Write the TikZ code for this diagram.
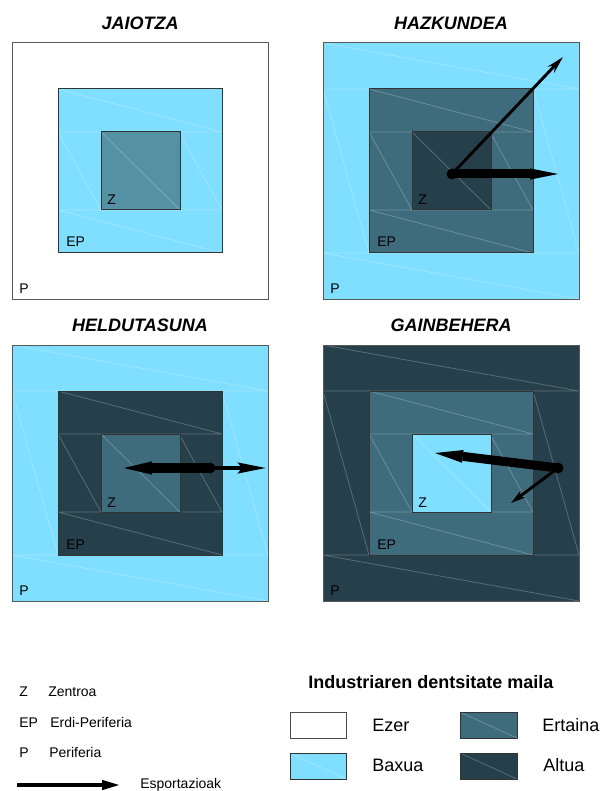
\documentclass[tikz,border=0pt]{standalone}
\usepackage{fontspec}
\setmainfont{Liberation Sans}
\usetikzlibrary{arrows.meta, calc}
\definecolor{baxua}{RGB}{128, 223, 255}
\definecolor{ertaina}{RGB}{62, 108, 124}
\definecolor{altua}{RGB}{38, 64, 75}
\definecolor{zargia}{RGB}{85, 145, 164}
\tikzset{
  zati/.style = {white, opacity = 0.25, line width = 0.55pt},
  ertz/.style = {draw = black!80, line width = 0.75pt},
  izenburua/.style = {font = \fontsize{13.5}{16}\selectfont\bfseries\itshape},
  etiketa/.style = {font = \fontsize{10.5}{12}\selectfont, anchor = base west, inner sep = 0pt},
  legenda/.style = {font = \fontsize{13.5}{16}\selectfont, anchor = base west, inner sep = 0pt}
}
% one stage: #1 name, #2 origin, #3 P, #4 EP, #5 Z, #6 title
\newcommand\estadioa[6]{%
  \begin{scope}[shift = {#2}]
    \fill[#3] (0, 0) rectangle (256, 256);
    \draw[zati] (0, 46) -- (256, 46) (0, 210) -- (256, 210)
      (0, 0) -- (256, 46) (0, 210) -- (256, 256)
      (0, 46) -- (46, 210) (210, 46) -- (256, 210);
    \draw[ertz, draw = black!65] (0, 0) rectangle (256, 256);
    \fill[#4] (46, 46) rectangle (210, 210);
    \draw[zati] (46, 89) -- (210, 89) (46, 167) -- (210, 167)
      (46, 46) -- (210, 89) (46, 167) -- (210, 210)
      (46, 89) -- (89, 167) (167, 89) -- (210, 167);
    \draw[ertz] (46, 46) rectangle (210, 210);
    \fill[#5] (89, 89) rectangle (168, 167);
    \draw[zati] (89, 89) -- (168, 167);
    \draw[ertz] (89, 89) rectangle (168, 167);
    \node[izenburua] (#1) at (128, -20) {#6};
    \node[etiketa] (#1-p) at (7, 250) {P};
    \node[etiketa] (#1-ep) at (54, 204) {EP};
    \node[etiketa] (#1-z) at (95, 162) {Z};
  \end{scope}}
% thick export arrow: #1 start, #2 tip, #3 shaft width, #4 head half width
\newcommand\lodia[4]{%
  \coordinate (oin) at ($(#2)!21pt!(#1)$);
  \draw[line width = #3] (#1) -- (oin);
  \fill (#2) -- ($(oin)!#4!90:(#2)$) -- ($(oin)!#4!-90:(#2)$) -- cycle;
  \fill (#1) circle (5.5);}

\begin{document}
\begin{tikzpicture}[x = 0.75pt, y = -0.75pt]
\useasboundingbox[fill = white] (0, 0) rectangle (601, 791);

\estadioa{jaiotza}{(12, 43)}{white}{baxua}{zargia}{JAIOTZA}
\estadioa{hazkundea}{(323, 43)}{baxua}{ertaina}{altua}{HAZKUNDEA}
\estadioa{heldutasuna}{(12, 345)}{baxua}{altua}{ertaina}{HELDUTASUNA}
\estadioa{gainbehera}{(323, 345)}{altua}{ertaina}{baxua}{GAINBEHERA}

% export arrows
\coordinate (h0) at (452, 174);
\coordinate (h1) at (558, 174);
\coordinate (h2) at (563, 57);
\draw[line width = 2.2pt, -{Stealth[length = 13pt, width = 6.5pt]}] (h0) -- (h2);
\lodia{h0}{h1}{6.75pt}{4.2pt}

\coordinate (e0) at (210, 468);
\coordinate (e1) at (124, 468);
\coordinate (e2) at (266, 468);
\draw[line width = 2.8pt, -{Stealth[length = 21pt, width = 8pt, inset = 3pt]}] (e0) -- (e2);
\lodia{e0}{e1}{7.5pt}{5pt}

\coordinate (g0) at (558, 468);
\coordinate (g1) at (435, 453);
\coordinate (g2) at (511, 503);
\draw[line width = 2.2pt, -{Stealth[length = 11pt, width = 6pt]}] (g0) -- (g2);
\lodia{g0}{g1}{6.75pt}{4.8pt}

% legend, left
\node[etiketa] (lz) at (19, 696) {Z};
\node[etiketa] (lzt) at (48, 696) {Zentroa};
\node[etiketa] (lep) at (19, 727) {EP};
\node[etiketa] (lept) at (50, 727) {Erdi-Periferia};
\node[etiketa] (lp) at (19, 757.5) {P};
\node[etiketa] (lpt) at (49, 757.5) {Periferia};
\coordinate (la0) at (17, 785);
\coordinate (la1) at (122, 785);
\draw[line width = 3.4pt, -{Triangle[length = 15pt, width = 6.5pt]}] (la0) -- (la1);
\node[etiketa] (lesp) at (140, 788) {Esportazioak};

% legend, right
\node[legenda, font = \fontsize{13.5}{16}\selectfont\bfseries] (maila) at (308, 688) {Industriaren dentsitate maila};
\fill[white] (290, 712) rectangle (346, 738);
\draw[ertz, draw = black!70] (290, 712) rectangle (346, 738);
\fill[baxua] (290, 753) rectangle (346, 779);
\draw[zati] (290, 753) -- (346, 779);
\draw[ertz] (290, 753) rectangle (346, 779);
\fill[ertaina] (460, 712) rectangle (517, 738);
\draw[zati] (460, 712) -- (517, 738);
\draw[ertz] (460, 712) rectangle (517, 738);
\fill[altua] (460, 753) rectangle (517, 779);
\draw[zati] (460, 753) -- (517, 779);
\draw[ertz] (460, 753) rectangle (517, 779);
\node[legenda] (ezer) at (372, 731) {Ezer};
\node[legenda] (baxua) at (372, 771.5) {Baxua};
\node[legenda] (ertaina) at (542, 731) {Ertaina};
\node[legenda] (altua) at (543, 771.5) {Altua};
\end{tikzpicture}
\end{document}
